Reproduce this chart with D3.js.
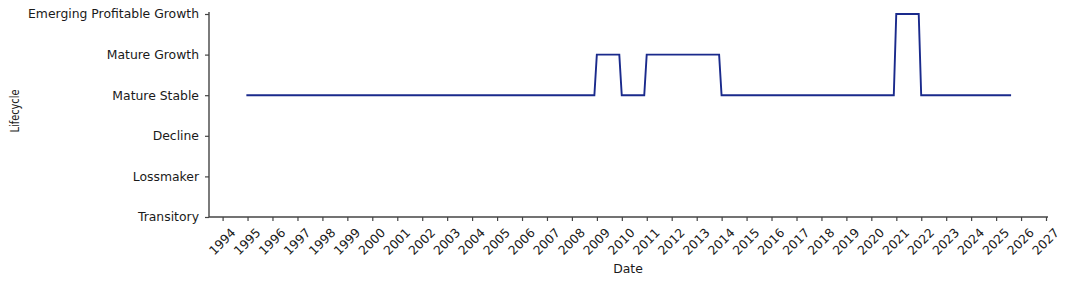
<!DOCTYPE html>
<html>
<head>
<meta charset="utf-8">
<script src="https://cdn.jsdelivr.net/npm/d3@7"></script>
<style>
  body { margin: 0; background: #fff; }
  text { font-family: "DejaVu Sans", sans-serif; fill: #1a1a1a; }
</style>
</head>
<body>
<div id="chart"></div>
<script>
// lifecycle stages, bottom to top
const stages = ['Transitory', 'Lossmaker', 'Decline', 'Mature Stable', 'Mature Growth', 'Emerging Profitable Growth']

// dates where the line bends, and the stage at each one
const dates = [
  '1994-12-15', '2008-11-25', '2008-12-31', '2009-11-25', '2009-12-31',
  '2010-11-25', '2010-12-31', '2013-11-25', '2013-12-31', '2020-11-25',
  '2020-12-31', '2021-11-25', '2021-12-31', '2025-08-08'
]
const lifecycle = [
  'Mature Stable', 'Mature Stable', 'Mature Growth', 'Mature Growth', 'Mature Stable',
  'Mature Stable', 'Mature Growth', 'Mature Growth', 'Mature Stable', 'Mature Stable',
  'Emerging Profitable Growth', 'Emerging Profitable Growth', 'Mature Stable', 'Mature Stable'
]

const tickYears = d3.range(1994, 2028)

const width = 1070, height = 285
const margin = {left: 209, right: 22, top: 12, bottom: 68}

const parse = d3.timeParse('%Y-%m-%d')
const data = dates.map((d, i) => ({date: parse(d), stage: lifecycle[i]}))

const x = d3.scaleTime()
  .domain([new Date(1994, 0, 1), new Date(2027, 0, 1)])
  .range([222.6, 1046])

const y = d3.scalePoint()
  .domain(stages)
  .range([height - margin.bottom, 14])

const svg = d3.select('#chart').append('svg')
  .attr('width', width)
  .attr('height', height)

// axis lines
svg.append('line')
  .attr('x1', margin.left).attr('x2', margin.left)
  .attr('y1', margin.top).attr('y2', height - margin.bottom)
  .attr('stroke', '#444').attr('stroke-width', 1.4)
svg.append('line')
  .attr('x1', margin.left).attr('x2', width - margin.right)
  .attr('y1', height - margin.bottom).attr('y2', height - margin.bottom)
  .attr('stroke', '#444').attr('stroke-width', 1.4)

// y axis
const yAxis = svg.append('g')
  .attr('transform', `translate(${margin.left}, 0)`)
  .call(d3.axisLeft(y).tickSize(4).tickPadding(6))
yAxis.select('.domain').remove()
yAxis.selectAll('.tick line').attr('stroke', '#444').attr('stroke-width', 1.2)
yAxis.selectAll('text').attr('font-size', 12.4).attr('fill', '#1a1a1a')
  .style('font-family', '"DejaVu Sans", sans-serif')

// x axis
const xAxis = svg.append('g')
  .attr('transform', `translate(0, ${height - margin.bottom})`)
  .call(d3.axisBottom(x)
    .tickValues(tickYears.map(yr => new Date(yr, 0, 1)))
    .tickFormat(d3.timeFormat('%Y'))
    .tickSize(4))
xAxis.select('.domain').remove()
xAxis.selectAll('.tick line').attr('stroke', '#444').attr('stroke-width', 1.2)
xAxis.selectAll('text')
  .attr('font-size', 12.4)
  .attr('fill', '#1a1a1a')
  .style('font-family', '"DejaVu Sans", sans-serif')
  .attr('y', 0)
  .attr('dy', null)
  .attr('text-anchor', 'middle')
  .attr('dominant-baseline', 'central')
  .attr('transform', 'translate(-1, 24.5) rotate(-45)')

// axis titles
svg.append('text')
  .attr('x', 628).attr('y', 273)
  .attr('text-anchor', 'middle')
  .attr('font-size', 12.4)
  .text('Date')

svg.append('text')
  .attr('transform', 'translate(19, 111) rotate(-90)')
  .attr('text-anchor', 'middle')
  .attr('font-size', 12.4)
  .attr('textLength', 43)
  .attr('lengthAdjust', 'spacingAndGlyphs')
  .text('Lifecycle')

// the lifecycle line
const line = d3.line()
  .x(d => x(d.date))
  .y(d => y(d.stage))

svg.append('path')
  .datum(data)
  .attr('fill', 'none')
  .attr('stroke', '#1a2a8c')
  .attr('stroke-width', 1.9)
  .attr('d', line)
</script>
</body>
</html>
